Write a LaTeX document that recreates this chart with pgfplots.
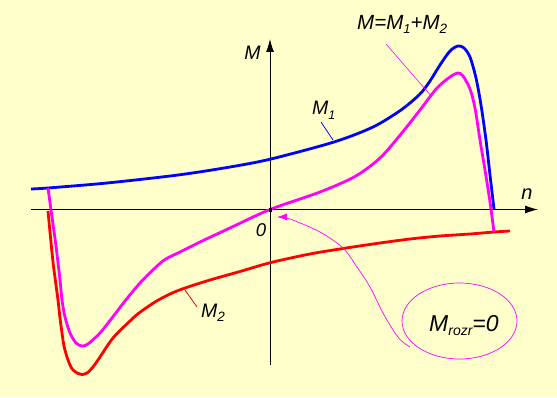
\documentclass[border=0pt]{standalone}
\usepackage{fontspec}
\setmainfont{Liberation Sans}
\usepackage{pgfplots}
\pgfplotsset{compat=1.18}
\usetikzlibrary{backgrounds,arrows.meta}
\definecolor{bg}{HTML}{FFFFCC}
\definecolor{cM}{RGB}{255,0,255}
\definecolor{cB}{RGB}{0,0,255}
\definecolor{cR}{RGB}{255,0,0}
\newcommand{\sub}[2]{\raisebox{-0.4ex}{\fontsize{#1}{#1}\selectfont #2}}
\begin{document}
\begin{tikzpicture}[background rectangle/.style={fill=bg,draw=none}, show background rectangle, inner frame sep=0pt]
\begin{axis}[x=1pt, y=1pt, axis lines=middle,
  xmin=-239, xmax=268, ymin=-155.5, ymax=170.5,
  xtick=\empty, ytick=\empty, clip=false,
  axis line style={line width=0.9pt, black, -{Latex[length=13pt,width=8pt]}}]
\path (axis cs:-270,-187.5) rectangle (axis cs:287,209.5);
% M1
\addplot[cB, line width=2.8pt, smooth, line join=round] coordinates {
(-239,20.5)(-222,21.5)(-163,26.5)(-92,34.5)(-40,42.5)(1,50.5)(64,67.5)(103,82.5)(131,99.5)(150,115.5)(160,128.5)(170,144.5)(180,158.5)(188,163.5)(194,161.5)(200,152.5)(206,131.5)(211,104.5)(216,69.5)(220,34.5)(224,0.5)};
% M2
\addplot[cR, line width=2.8pt, smooth, line join=round] coordinates {
(-222,-1.5)(-220,-22.5)(-217,-52.5)(-214,-75.5)(-212,-90.5)(-210,-108.5)(-208,-123.5)(-206,-136.5)(-203,-147.5)(-200,-155.5)(-197,-160.5)(-192,-164)(-188,-165)(-183,-163.5)(-177,-157.5)(-170,-147.5)(-157,-128.5)(-140,-111.5)(-131,-103.5)(-115,-92.5)(-100,-84.5)(-85,-78.5)(-60,-70.5)(-30,-62)(1,-53)(40,-44.5)(73,-39)(110,-33.5)(140,-29.5)(170,-26.5)(200,-24.5)(224,-22.5)(240,-21.5)};
% M = M1 + M2
\addplot[cM, line width=2.8pt, smooth, line join=round] coordinates {
(-222,21.5)(-218,-7.5)(-214,-36.5)(-210,-70.5)(-208,-90.5)(-205,-107.5)(-200,-123.5)(-194,-133.5)(-188,-136.5)(-182,-134.5)(-170,-123.5)(-158,-108.5)(-145,-91.5)(-130,-73.5)(-115,-58.5)(-105,-50)(-90,-42.5)(-71,-33)(-39,-18)(0,0)(50,17.5)(85,33)(110,51.5)(131,75.5)(150,99.5)(167,121.5)(180,132.5)(188,136.5)(193,133.5)(200,120.5)(205,101.5)(210,69.5)(215,39.5)(220,7.5)(224,-22.5)};
% origin
\addplot[only marks, mark=square*, mark size=1.3pt, black] coordinates {(0,0)};
% leaders
\draw[cB, line width=0.8pt] (axis cs:51,87.5) -- (axis cs:63,69.5);
\draw[cR, line width=0.8pt] (axis cs:-85,-80.5) -- (axis cs:-73,-97.5);
\draw[cM, line width=0.6pt] (axis cs:116,165.5) -- (axis cs:162,112.5);
% ellipse and arrow
\draw[cM, line width=0.7pt] (axis cs:189.5,-111.5) ellipse [x radius=57.5pt, y radius=38pt];
\addplot[cM, line width=0.7pt, smooth, -{Latex[length=10pt,width=7pt]}] coordinates {
(140,-137.5)(131,-131)(123,-120.5)(113,-103.5)(100,-77.5)(87,-57.5)(73,-38.5)(50,-22.5)(20,-9.5)(7,-7.5)};
% labels
\node[anchor=base, inner sep=0, font=\fontsize{19.5}{19.5}\selectfont\itshape] at (axis cs:-17.5,150.2) {M};
\node[anchor=base, inner sep=0, font=\fontsize{20}{20}\selectfont\itshape] at (axis cs:257,10.2) {n};
\node[anchor=base, inner sep=0, font=\fontsize{18.5}{18.5}\selectfont\itshape] at (axis cs:-9,-27.2) {0};
\node[anchor=base west, inner sep=0, font=\fontsize{19.5}{19.5}\selectfont\itshape] at (axis cs:42,94.5) {M\sub{12.5}{1}};
\node[anchor=base west, inner sep=0, font=\fontsize{19.5}{19.5}\selectfont\itshape] at (axis cs:-69,-107.5) {M\sub{13.5}{2}};
\node[anchor=base west, inner sep=0, font=\fontsize{20.5}{20.5}\selectfont\itshape] at (axis cs:87,180.2) {M=M\sub{13}{1}+M\sub{13.5}{2}};
\node[anchor=base west, inner sep=0, font=\fontsize{23}{23}\selectfont\itshape] at (axis cs:159,-121.5) {M\sub{14}{rozr}=0};
\end{axis}
\end{tikzpicture}
\end{document}
